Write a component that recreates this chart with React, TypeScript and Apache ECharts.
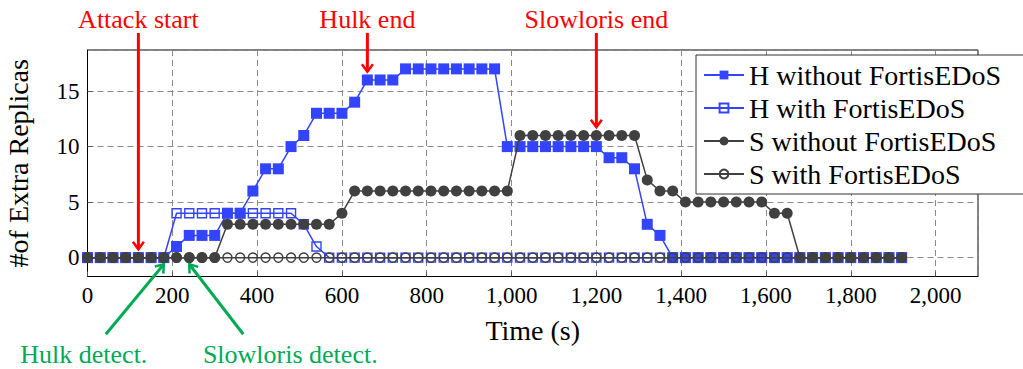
import React, { useEffect, useRef } from 'react';
import * as echarts from 'echarts';

const times = [
  0, 30, 60, 90, 120, 150, 180, 210, 240, 270, 300, 330, 360, 390, 420, 450, 480, 510, 540, 570,
  600, 630, 660, 690, 720, 750, 780, 810, 840, 870, 900, 930, 960, 990, 1020, 1050, 1080, 1110,
  1140, 1170, 1200, 1230, 1260, 1290, 1320, 1350, 1380, 1410, 1440, 1470, 1500, 1530, 1560, 1590,
  1620, 1650, 1680, 1710, 1740, 1770, 1800, 1830, 1860, 1890, 1920,
];

const hWithout = [
  0, 0, 0, 0, 0, 0, 0, 1, 2, 2, 2, 4, 4, 6, 8, 8, 10, 11, 13, 13,
  13, 14, 16, 16, 16, 17, 17, 17, 17, 17, 17, 17, 17, 10, 10, 10, 10, 10,
  10, 10, 10, 9, 9, 8, 3, 2, 0, 0, 0, 0, 0, 0, 0, 0,
  0, 0, 0, 0, 0, 0, 0, 0, 0, 0, 0,
];

const hWith = [
  0, 0, 0, 0, 0, 0, 0, 4, 4, 4, 4, 4, 4, 4, 4, 4, 4, 3, 1, 0,
  0, 0, 0, 0, 0, 0, 0, 0, 0, 0, 0, 0, 0, 0, 0, 0, 0, 0,
  0, 0, 0, 0, 0, 0, 0, 0, 0, 0, 0, 0, 0, 0, 0, 0,
  0, 0, 0, 0, 0, 0, 0, 0, 0, 0, 0,
];

const sWithout = [
  0, 0, 0, 0, 0, 0, 0, 0, 0, 0, 0, 3, 3, 3, 3, 3, 3, 3, 3, 3,
  4, 6, 6, 6, 6, 6, 6, 6, 6, 6, 6, 6, 6, 6, 11, 11, 11, 11,
  11, 11, 11, 11, 11, 11, 7, 6, 6, 5, 5, 5, 5, 5, 5, 5,
  4, 4, 0, 0, 0, 0, 0, 0, 0, 0, 0,
];

const sWith = [
  0, 0, 0, 0, 0, 0, 0, 0, 0, 0, 0, 0, 0, 0, 0, 0, 0, 0, 0, 0,
  0, 0, 0, 0, 0, 0, 0, 0, 0, 0, 0, 0, 0, 0, 0, 0, 0, 0,
  0, 0, 0, 0, 0, 0, 0, 0, 0, 0, 0, 0, 0, 0, 0, 0,
  0, 0, 0, 0, 0, 0, 0, 0, 0, 0, 0,
];

const seriesNames = [
  'H without FortisEDoS',
  'H with FortisEDoS',
  'S without FortisEDoS',
  'S with FortisEDoS',
];

// annotation targets (data space)
const redNotes = [
  { label: 'Attack start', x: 120, tipY: 0.75 },
  { label: 'Hulk end', x: 660, tipY: 16.75 },
  { label: 'Slowloris end', x: 1200, tipY: 11.75 },
];
const greenNotes = [
  { label: 'Hulk detect.', x: 180, tipY: -0.6 },
  { label: 'Slowloris detect.', x: 240, tipY: -0.6 },
];
// layout of green annotation tails/texts (pixel offsets from tip)
const greenLayout = [
  { tailDx: -58, textDx: -80 },
  { tailDx: 54, textDx: 101 },
];

const FONT = "'Liberation Serif', 'DejaVu Serif', serif";
const BLUE = '#3344ff';
const DARK = '#404040';
const RED = '#ff0000';
const GREEN = '#00aa55';

function arrow(x0: number, y0: number, x1: number, y1: number, color: string) {
  const dx = x1 - x0;
  const dy = y1 - y0;
  const len = Math.hypot(dx, dy);
  const ux = dx / len;
  const uy = dy / len;
  const nx = -uy;
  const ny = ux;
  const L = 7.5;
  const W = 5.5;
  return [
    {
      type: 'line',
      z: 100,
      silent: true,
      shape: { x1: x0, y1: y0, x2: x1, y2: y1 },
      style: { stroke: color, lineWidth: 3 },
    },
    {
      type: 'polyline',
      z: 100,
      silent: true,
      shape: {
        points: [
          [x1 - ux * L + nx * W, y1 - uy * L + ny * W],
          [x1, y1],
          [x1 - ux * L - nx * W, y1 - uy * L - ny * W],
        ],
      },
      style: { stroke: color, lineWidth: 2.5, fill: 'none' },
    },
  ];
}

function textEl(text: string, x: number, y: number, color: string) {
  return {
    type: 'text',
    z: 100,
    silent: true,
    x,
    y,
    style: {
      text,
      fill: color,
      fontFamily: FONT,
      fontSize: 26,
      textAlign: 'center',
      textVerticalAlign: 'middle',
      align: 'center',
      verticalAlign: 'middle',
    },
  };
}

export default function App() {
  const ref = useRef<HTMLDivElement>(null);

  useEffect(() => {
    if (!ref.current) return;
    const chart = echarts.init(ref.current, null, { renderer: 'svg' });

    const mk = (vals: number[]) => times.map((t, i) => [t, vals[i]]);

    const option: any = {
      animation: false,
      backgroundColor: '#fff',
      textStyle: { fontFamily: FONT },
      grid: {
        left: 87.5,
        top: 50,
        right: 45,
        bottom: 92.5,
        containLabel: false,
        outerBoundsMode: 'none',
        show: true,
        borderColor: '#000',
        borderWidth: 1,
        backgroundColor: 'transparent',
      },
      legend: {
        orient: 'vertical',
        left: 696,
        top: 55,
        padding: [6, 25, 6, 7],
        itemGap: 5,
        itemWidth: 40,
        itemHeight: 11,
        backgroundColor: '#fff',
        borderColor: '#333',
        borderWidth: 1,
        borderRadius: 0,
        z: 10,
        selectedMode: false,
        textStyle: { fontFamily: FONT, fontSize: 28, color: '#000' },
        data: seriesNames,
      },
      xAxis: {
        type: 'value',
        min: 0,
        max: 2100,
        interval: 200,
        name: 'Time (s)',
        nameLocation: 'middle',
        nameGap: 40,
        nameTextStyle: { fontFamily: FONT, fontSize: 28, color: '#000' },
        axisLine: { show: true, onZero: false, lineStyle: { color: '#000', width: 1 } },
        axisTick: { show: true, inside: true, length: 5, lineStyle: { color: '#555' } },
        axisLabel: {
          fontFamily: FONT,
          fontSize: 23,
          color: '#000',
          margin: 7,
          showMaxLabel: false,
          formatter: (v: number) => v.toLocaleString('en-US'),
        },
        splitLine: { show: true, lineStyle: { type: [6, 4], color: '#8a8a8a', width: 1 } },
      },
      yAxis: {
        type: 'value',
        min: -1.7,
        max: 18.7,
        splitNumber: 4,
        name: '#of Extra Replicas',
        nameLocation: 'middle',
        nameGap: 55,
        nameTextStyle: { fontFamily: FONT, fontSize: 28, color: '#000' },
        axisLine: { show: true, onZero: false, lineStyle: { color: '#000', width: 1 } },
        axisTick: { show: true, inside: true, length: 5, lineStyle: { color: '#555' } },
        axisLabel: {
          fontFamily: FONT,
          fontSize: 23,
          color: '#000',
          margin: 8,
          showMinLabel: false,
          showMaxLabel: false,
          formatter: (v: number) => (Math.abs(v) < 1e-9 ? '0' : String(v)),
        },
        splitLine: { show: true, lineStyle: { type: [6, 4], color: '#8a8a8a', width: 1 } },
      },
      series: [
        {
          name: seriesNames[0],
          type: 'line',
          data: mk(hWithout),
          symbol: 'rect',
          symbolSize: 11,
          itemStyle: { color: BLUE },
          lineStyle: { color: BLUE, width: 1.5 },
          z: 2,
          clip: false,
          silent: true,
          emphasis: { disabled: true },
        },
        {
          name: seriesNames[1],
          type: 'line',
          data: mk(hWith),
          symbol: 'rect',
          symbolSize: 9,
          itemStyle: { color: 'rgba(255,255,255,0)', borderColor: BLUE, borderWidth: 1.4 },
          lineStyle: { color: BLUE, width: 1.5 },
          z: 3,
          clip: false,
          silent: true,
          emphasis: { disabled: true },
        },
        {
          name: seriesNames[2],
          type: 'line',
          data: mk(sWithout),
          symbol: 'circle',
          symbolSize: 11,
          itemStyle: { color: DARK },
          lineStyle: { color: DARK, width: 1.5 },
          z: 4,
          clip: false,
          silent: true,
          emphasis: { disabled: true },
        },
        {
          name: seriesNames[3],
          type: 'line',
          data: mk(sWith),
          symbol: 'circle',
          symbolSize: 9,
          itemStyle: { color: 'rgba(255,255,255,0)', borderColor: DARK, borderWidth: 1.4 },
          lineStyle: { color: DARK, width: 1.5 },
          z: 5,
          clip: false,
          silent: true,
          emphasis: { disabled: true },
        },
      ],
    };

    chart.setOption(option);

    const toPx = (x: number, y: number) =>
      chart.convertToPixel({ gridIndex: 0 }, [x, y]) as number[];

    const elements: any[] = [];
    redNotes.forEach((n) => {
      const [px, py] = toPx(n.x, n.tipY);
      elements.push(...arrow(px, 33, px, py, RED));
      elements.push(textEl(n.label, px, 19, RED));
    });
    greenNotes.forEach((n, i) => {
      const [px, py] = toPx(n.x, n.tipY);
      const lay = greenLayout[i];
      const tx = px + lay.tailDx;
      const ty = py + 70;
      elements.push(...arrow(tx, ty, px, py, GREEN));
      elements.push(textEl(n.label, px + lay.textDx, 354, GREEN));
    });

    chart.setOption({ graphic: elements });

    return () => chart.dispose();
  }, []);

  return (
    <div
      ref={ref}
      style={{ position: 'absolute', left: 0, top: 0, width: 1023, height: 369 }}
    />
  );
}
